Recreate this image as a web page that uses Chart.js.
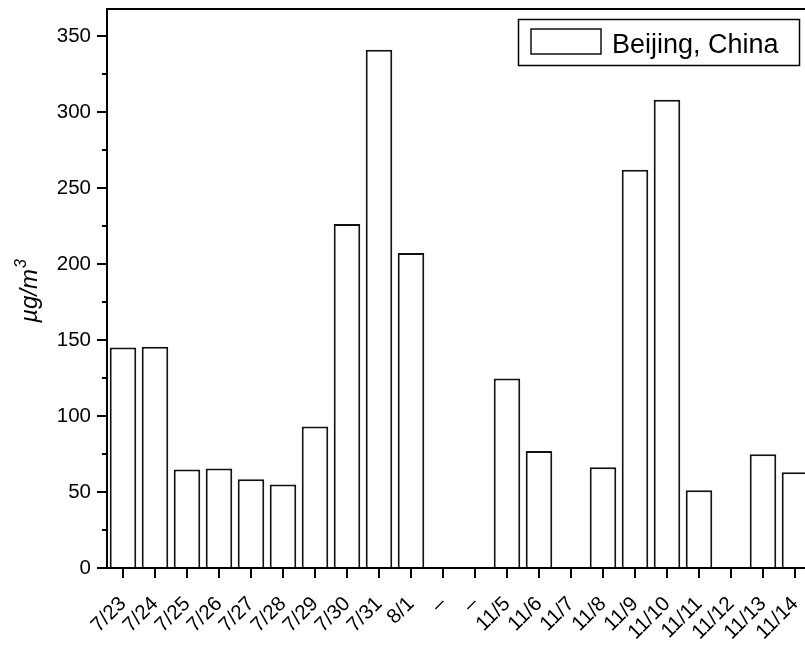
<!DOCTYPE html>
<html>
<head>
<meta charset="utf-8">
<script src="https://cdn.jsdelivr.net/npm/chart.js@4/dist/chart.umd.min.js"></script>
<style>
  html, body { margin: 0; padding: 0; background: #fff; overflow: hidden; width: 805px; height: 646px; }
  #wrap { width: 830px; height: 646px; }
</style>
</head>
<body>
<div id="wrap"><canvas id="c" width="830" height="646"></canvas></div>
<script>
// Sampling days (two campaigns, separated by placeholder slots)
const categories = ['7/23','7/24','7/25','7/26','7/27','7/28','7/29','7/30','7/31','8/1','–','–',
                    '11/5','11/6','11/7','11/8','11/9','11/10','11/11','11/12','11/13','11/14'];
// Daily mean concentration (µg/m³); null = no measurement
const beijing = [145.2,145.7,64.8,65.5,58.4,54.9,93.1,226.5,341.2,207.4,null,null,
                 124.8,77.1,null,66.3,262.1,308.2,51.2,null,74.9,63.0];
const yMajorTicks = [0,50,100,150,200,250,300,350];
const yMinorTicks = [25,75,125,175,225,275,325];
const seriesName = 'Beijing, China';

const FONT = "'Liberation Sans', Arial, sans-serif";

// Frame, minor ticks, axis title and boxed legend
const decor = {
  id: 'decor',
  afterDraw(chart) {
    const ctx = chart.ctx, a = chart.chartArea, y = chart.scales.y;
    ctx.save();
    ctx.strokeStyle = '#000';
    ctx.lineWidth = 2;
    ctx.strokeRect(a.left, a.top, a.right - a.left, a.bottom - a.top);

    ctx.lineWidth = 2;
    yMinorTicks.forEach(v => {
      const py = Math.round(y.getPixelForValue(v));
      ctx.beginPath();
      ctx.moveTo(a.left - 5, py);
      ctx.lineTo(a.left, py);
      ctx.stroke();
    });

    // y-axis title µg/m³
    ctx.fillStyle = '#000';
    ctx.translate(37, (a.top + a.bottom) / 2 + 3);
    ctx.rotate(-Math.PI / 2);
    ctx.font = 'italic 24px ' + FONT;
    const main = 'µg/m';
    const wMain = ctx.measureText(main).width;
    ctx.font = 'italic 16px ' + FONT;
    const wSup = ctx.measureText('3').width;
    const x0 = -(wMain + wSup) / 2;
    ctx.textBaseline = 'alphabetic';
    ctx.font = 'italic 24px ' + FONT;
    ctx.fillText(main, x0, 0);
    ctx.font = 'italic 16px ' + FONT;
    ctx.fillText('3', x0 + wMain + 1, -11);
    ctx.setTransform(1, 0, 0, 1, 0, 0);

    // legend
    const ds = chart.data.datasets[0];
    ctx.lineWidth = 1.5;
    ctx.strokeStyle = '#000';
    ctx.strokeRect(518.5, 19.5, 281, 46);
    ctx.fillStyle = ds.backgroundColor;
    ctx.fillRect(531, 29, 70, 25);
    ctx.strokeStyle = ds.borderColor;
    ctx.strokeRect(531, 29, 70, 25);
    ctx.fillStyle = '#000';
    ctx.font = '27px ' + FONT;
    ctx.textBaseline = 'alphabetic';
    ctx.fillText(ds.label, 612, 53);
    ctx.restore();
  }
};

new Chart(document.getElementById('c'), {
  type: 'bar',
  data: {
    labels: categories,
    datasets: [{
      label: seriesName,
      data: beijing,
      backgroundColor: '#ffffff',
      borderColor: '#111111',
      borderWidth: 2,
      barPercentage: 0.83,
      categoryPercentage: 1.0
    }]
  },
  options: {
    responsive: false,
    animation: false,
    devicePixelRatio: 1,
    layout: { padding: { top: 9, right: 19, left: 0, bottom: 0 } },
    plugins: { legend: { display: false }, tooltip: { enabled: false } },
    scales: {
      x: {
        offset: true,
        border: { display: false },
        grid: { offset: false, drawOnChartArea: false, tickLength: 10, color: '#000', lineWidth: 2 },
        ticks: {
          autoSkip: false, maxRotation: 45, minRotation: 45,
          color: '#000', font: { family: FONT, size: 20.5 }, padding: 14
        },
        afterFit(s) { s.height = 78; s.paddingLeft = 0; s.paddingRight = 0; }
      },
      y: {
        min: 0, max: 368,
        border: { display: false },
        grid: { drawOnChartArea: false, tickLength: 10, color: '#000', lineWidth: 2 },
        afterBuildTicks(s) { s.ticks = yMajorTicks.map(v => ({ value: v })); },
        ticks: { color: '#000', font: { family: FONT, size: 20.5 }, padding: 6, includeBounds: false },
        afterFit(s) { s.width = 107; s.paddingTop = 0; s.paddingBottom = 0; }
      }
    }
  },
  plugins: [decor]
});
</script>
</body>
</html>
